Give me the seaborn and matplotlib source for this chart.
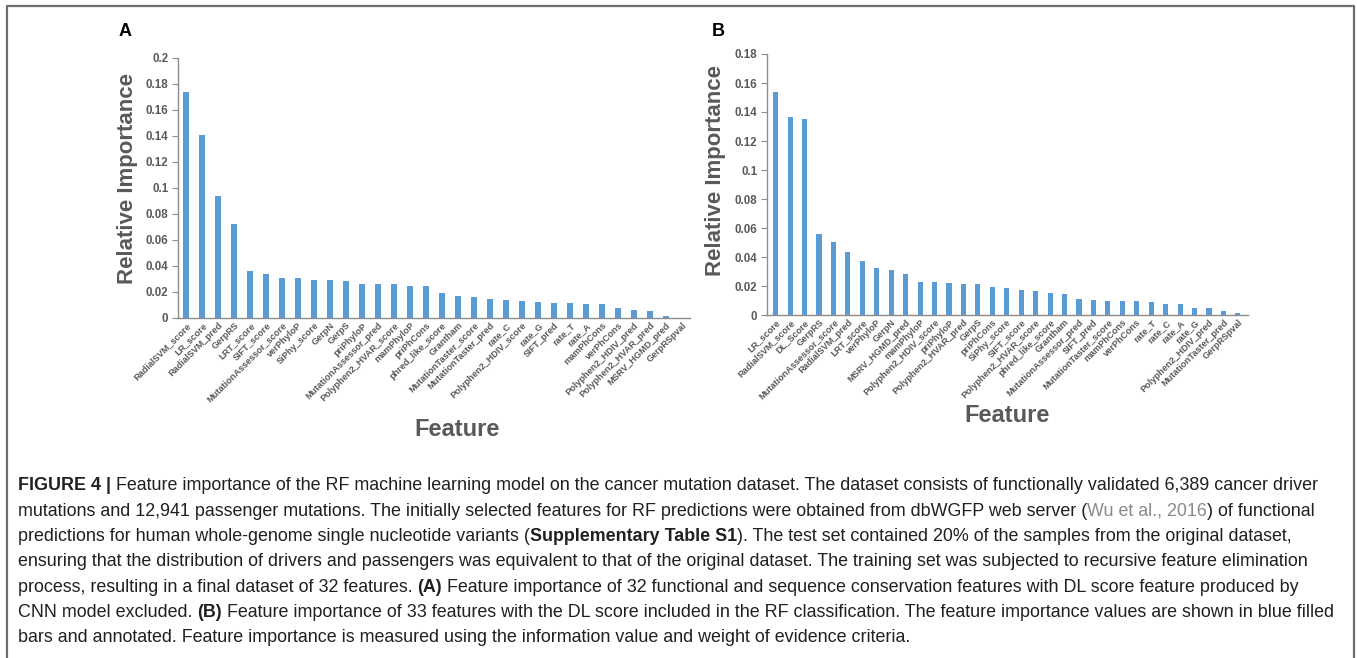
import matplotlib
matplotlib.use("Agg")
import matplotlib.pyplot as plt
import seaborn as sns
import pandas as pd
from matplotlib.lines import Line2D
from matplotlib import font_manager
from matplotlib.ticker import MultipleLocator, FuncFormatter

# ---------------- data ----------------
features_a = ["RadialSVM_score", "LR_score", "RadialSVM_pred", "GerpRS", "LRT_score", "SIFT_score",
              "MutationAssessor_score", "verPhyloP", "SiPhy_score", "GerpN", "GerpS", "priPhyloP",
              "MutationAssessor_pred", "Polyphen2_HVAR_score", "mamPhyloP", "priPhCons",
              "phred_like_score", "Grantham", "MutationTaster_score", "MutationTaster_pred", "rate_C",
              "Polyphen2_HDIV_score", "rate_G", "SIFT_pred", "rate_T", "rate_A", "mamPhCons",
              "verPhCons", "Polyphen2_HDIV_pred", "Polyphen2_HVAR_pred", "MSRV_HGMD_pred", "GerpRSpval"]
importance_a = [0.174, 0.1406, 0.0938, 0.0722, 0.0365, 0.0339, 0.0311, 0.0311, 0.0296, 0.0296,
                0.0288, 0.0265, 0.0265, 0.0260, 0.0249, 0.0244, 0.0195, 0.0167, 0.0162, 0.0147,
                0.0139, 0.0129, 0.0123, 0.0116, 0.0116, 0.0105, 0.0105, 0.0080, 0.0059, 0.0057,
                0.0018, 0.0003]

features_b = ["LR_score", "RadialSVM_score", "DL_Score", "GerpRS", "MutationAssessor_score",
              "RadialSVM_pred", "LRT_score", "verPhyloP", "GerpN", "MSRV_HGMD_pred", "mamPhyloP",
              "Polyphen2_HDIV_score", "priPhyloP", "Polyphen2_HVAR_pred", "GerpS", "priPhCons",
              "SiPhy_score", "SIFT_score", "Polyphen2_HVAR_score", "phred_like_score", "Grantham",
              "MutationAssessor_pred", "SIFT_pred", "MutationTaster_score", "mamPhCons", "verPhCons",
              "rate_T", "rate_C", "rate_A", "rate_G", "Polyphen2_HDIV_pred", "MutationTaster_pred",
              "GerpRSpval"]
importance_b = [0.1536, 0.1368, 0.1349, 0.0561, 0.0506, 0.0437, 0.0372, 0.0326, 0.0313, 0.0285,
                0.0230, 0.0228, 0.0221, 0.0216, 0.0211, 0.0191, 0.0186, 0.0170, 0.0163, 0.0154,
                0.0145, 0.0113, 0.0106, 0.0099, 0.0094, 0.0094, 0.0090, 0.0078, 0.0076, 0.0046,
                0.0046, 0.0025, 0.0011]

ylim_a = 0.2
ylim_b = 0.18

caption_lines = [
    [("FIGURE 4 |", "b"), ("Feature importance of the RF machine learning model on the cancer mutation dataset. The dataset consists of functionally validated 6,389 cancer driver", "n")],
    [("mutations and 12,941 passenger mutations. The initially selected features for RF predictions were obtained from dbWGFP web server (", "n"), ("Wu et al., 2016", "g0"), (") of functional", "n0")],
    [("predictions for human whole-genome single nucleotide variants (", "n"), ("Supplementary Table S1", "b0"), ("). The test set contained 20% of the samples from the original dataset,", "n0")],
    [("ensuring that the distribution of drivers and passengers was equivalent to that of the original dataset. The training set was subjected to recursive feature elimination", "n")],
    [("process, resulting in a final dataset of 32 features.", "n"), ("(A)", "b"), ("Feature importance of 32 functional and sequence conservation features with DL score feature produced by", "n")],
    [("CNN model excluded.", "n"), ("(B)", "b"), ("Feature importance of 33 features with the DL score included in the RF classification. The feature importance values are shown in blue filled", "n")],
    [("bars and annotated. Feature importance is measured using the information value and weight of evidence criteria.", "n")],
]

# ---------------- style ----------------
sns.set_style("white")
plt.rcParams["font.family"] = ["Liberation Sans", "DejaVu Sans"]

W, H = 1357, 658
fig = plt.figure(figsize=(W / 100, H / 100), dpi=100)

BAR = "#5B9BD5"
GRAY = "#595959"
AX = "#8c8c8c"


def fx(x):
    return x / W


def fy(y):
    return 1 - y / H


def panel(rect_px, feats, vals, ymax, xlim):
    x0, y0, x1, y1 = rect_px
    ax = fig.add_axes([fx(x0), fy(y1), fx(x1) - fx(x0), fy(y0) - fy(y1)])
    df = pd.DataFrame({"feature": feats, "importance": vals})
    sns.barplot(data=df, x="feature", y="importance", color=BAR, width=0.36,
                saturation=1, ax=ax, order=feats, linewidth=0)
    ax.set_ylim(0, ymax)
    ax.set_xlim(*xlim)
    ax.yaxis.set_major_locator(MultipleLocator(0.02))
    ax.yaxis.set_major_formatter(FuncFormatter(lambda v, p: f"{round(v, 3):g}"))
    for s in ["top", "right"]:
        ax.spines[s].set_visible(False)
    for s in ["left", "bottom"]:
        ax.spines[s].set_color(AX)
        ax.spines[s].set_linewidth(1.0)
    ax.tick_params(axis="y", which="major", direction="out", length=4, width=0.8,
                   color=AX, labelsize=8.3, labelcolor=GRAY, pad=3, left=True)
    ax.tick_params(axis="x", length=0, pad=2, labelsize=6.6, labelcolor=GRAY)
    for lab in ax.get_yticklabels():
        lab.set_fontweight("bold")
    for lab in ax.get_xticklabels():
        lab.set_rotation(45)
        lab.set_ha("right")
        lab.set_rotation_mode("anchor")
        lab.set_fontweight("bold")
    ax.set_xlabel("")
    ax.set_ylabel("")
    return ax


ax_a = panel((178, 58, 690, 318), features_a, importance_a, ylim_a, (-0.5, 31.5))
ax_b = panel((767, 54, 1248, 315), features_b, importance_b, ylim_b, (-0.6, 32.7))

# axis titles and panel letters
fig.text(fx(127), fy(178), "Relative Importance", rotation=90, ha="center", va="center",
         fontsize=16, fontweight="bold", color=GRAY)
fig.text(fx(716), fy(170), "Relative Importance", rotation=90, ha="center", va="center",
         fontsize=16, fontweight="bold", color=GRAY)
fig.text(fx(457), fy(430), "Feature", ha="center", va="center", fontsize=17,
         fontweight="bold", color=GRAY)
fig.text(fx(1007), fy(416), "Feature", ha="center", va="center", fontsize=17,
         fontweight="bold", color=GRAY)
fig.text(fx(125), fy(32), "A", ha="center", va="center", fontsize=13, fontweight="bold", color="black")
fig.text(fx(718), fy(32), "B", ha="center", va="center", fontsize=13, fontweight="bold", color="black")

# frame
frame_kw = dict(color="#6e6e6e", linewidth=1.6, transform=fig.transFigure)
fig.add_artist(Line2D([fx(7), fx(7), fx(1354), fx(1354)], [fy(658), fy(6), fy(6), fy(658)], **frame_kw))

# caption
avail = {f.name for f in font_manager.fontManager.ttflist}
cap_family = ["Liberation Sans Narrow"] if "Liberation Sans Narrow" in avail else ["Liberation Sans"]
renderer = fig.canvas.get_renderer()
TXT = "#231f20"
LINK = "#8a8a8a"


def tw(s, size, weight="normal"):
    t = fig.text(0, 0, s, fontsize=size, fontweight=weight, family=cap_family)
    w = t.get_window_extent(renderer).width
    t.remove()
    return w


def space_w(size):
    return tw("a a", size) - tw("aa", size)


def line_width(line, size):
    total = 0
    for i, (s, st) in enumerate(line):
        if i > 0 and not st.endswith("0"):
            total += space_w(size)
        total += tw(s, size, "bold" if st.startswith("b") else "normal")
    return total


# fit the longest caption line (line 6) into the reference width
target = 1340 - 18
base = 10.0
cap_size = base * target / line_width(caption_lines[5], base)
baselines = [490, 516, 541, 566, 592, 617, 642]
for line, yb in zip(caption_lines, baselines):
    x = 18
    for i, (s, st) in enumerate(line):
        if i > 0 and not st.endswith("0"):
            x += space_w(cap_size)
        weight = "bold" if st.startswith("b") else "normal"
        color = LINK if st.startswith("g") else TXT
        t = fig.text(fx(x), fy(yb), s, fontsize=cap_size, fontweight=weight, color=color,
                     family=cap_family, ha="left", va="baseline")
        x = x + t.get_window_extent(renderer).width

fig.savefig("out.png", dpi=100)
